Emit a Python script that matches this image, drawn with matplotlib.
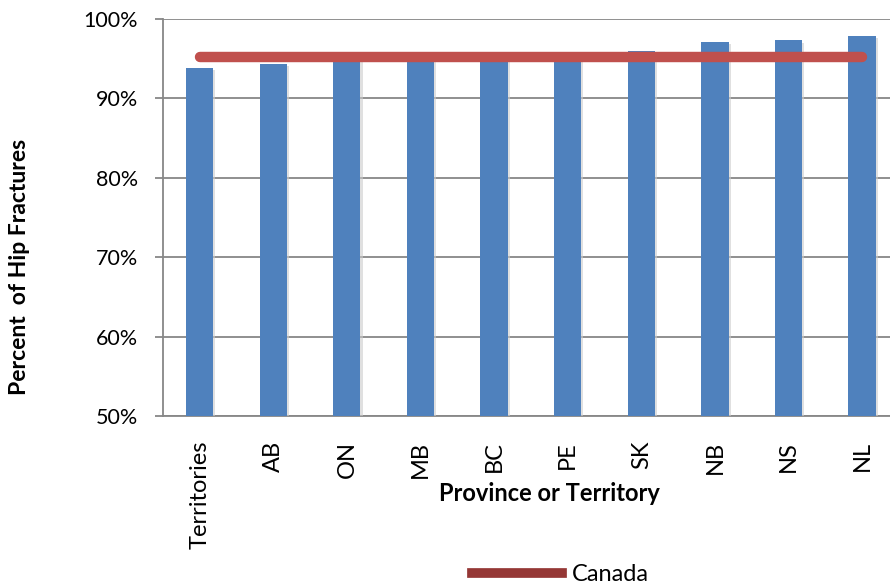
import numpy as np
import matplotlib.pyplot as plt
import matplotlib.patheffects as pe
from matplotlib.lines import Line2D
from matplotlib.ticker import FuncFormatter

plt.rcParams.update({'font.family': 'Lato'})

# data
regions = ["Territories", "AB", "ON", "MB", "BC", "PE", "SK", "NB", "NS", "NL"]
pct_surgery = [93.8, 94.3, 95.1, 95.2, 95.2, 95.4, 96.0, 97.1, 97.3, 97.9]
canada_rate = 95.2

bar_color = "#4F81BD"
line_color = "#C0504D"
grid_color = "#878787"

fig = plt.figure(figsize=(8.9, 5.85), dpi=100)
ax = fig.add_axes([0.183, 0.289, 0.827, 0.6785])

x = np.arange(len(regions))
bars = ax.bar(x, pct_surgery, width=0.37, bottom=0, color=bar_color, zorder=3)
for b in bars:
    b.set_path_effects([pe.SimplePatchShadow(offset=(1.5, -1.5), shadow_rgbFace="#cccccc", alpha=0.6),
                        pe.Normal()])

ax.plot(x, [canada_rate] * len(x), color=line_color, lw=7.5,
        solid_capstyle="round", zorder=4)

ax.set_ylim(50, 100)
ax.set_xlim(-0.5, len(regions) - 0.5)
ax.set_yticks(np.arange(50, 101, 10))
ax.yaxis.set_major_formatter(FuncFormatter(lambda v, _: f"{v:.0f}%"))
ax.grid(axis="y", color=grid_color, lw=1.3, zorder=0)

ax.set_xticks(x)
ax.set_xticklabels(regions, rotation=90, fontsize=17)
ax.tick_params(axis="x", length=0, pad=18)
ax.tick_params(axis="y", labelsize=15.5, length=6, width=1.3, color=grid_color, pad=12)

for side in ["top", "right"]:
    ax.spines[side].set_visible(False)
for side in ["left", "bottom"]:
    ax.spines[side].set_color(grid_color)
    ax.spines[side].set_linewidth(1.3)

fig.text(0.022, 0.544, "Percent  of Hip Fractures", rotation=90,
         fontsize=16.5, fontweight="bold", ha="center", va="center")
fig.text(0.617, 0.156, "Province or Territory", fontsize=17, fontweight="bold",
         ha="center", va="center")

handle = Line2D([], [], color="#953735", lw=7)
fig.legend([handle], ["Canada"], loc="center", bbox_to_anchor=(0.63, 0.018),
           frameon=False, handlelength=3.8, handletextpad=0.45,
           borderpad=0, prop={"size": 17})

fig.savefig("out.png", dpi=100)
